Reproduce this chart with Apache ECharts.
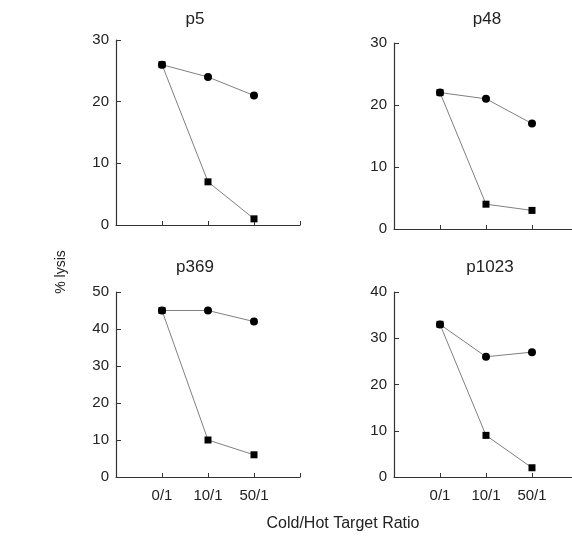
<!DOCTYPE html>
<html>
<head>
<meta charset="utf-8">
<script src="https://cdn.jsdelivr.net/npm/echarts@6/dist/echarts.min.js"></script>
<style>
  html, body { margin: 0; padding: 0; background: #fff; }
  #chart { width: 572px; height: 537px; }
</style>
</head>
<body>
<div id="chart"></div>
<script>
// 数据
const ratios = ["0/1", "10/1", "50/1"];
const panelNames = ["p5", "p48", "p369", "p1023"];
const circleValues = [
  [26, 24, 21],
  [22, 21, 17],
  [45, 45, 42],
  [33, 26, 27]
];
const squareValues = [
  [26, 7, 1],
  [22, 4, 3],
  [45, 10, 6],
  [33, 9, 2]
];
const yMax = [30, 30, 50, 40];
const yStep = [10, 10, 10, 10];

// 布局（右侧面板被画布右边截断）
const grids = [
  { left: 116, top: 40, width: 184, height: 185 },
  { left: 394, top: 43, width: 178, height: 186 },
  { left: 116, top: 292, width: 184, height: 185 },
  { left: 394, top: 292, width: 178, height: 185 }
];
const xMax = [4, 3.87, 4, 3.87];
const titlePos = [
  [195, 19],
  [487, 19],
  [195, 267],
  [490, 267]
];

const font = "Liberation Sans, Arial, sans-serif";
const axisColor = "#333";
const textColor = "#222";

function toPoints(values) {
  return values.map((v, i) => [i + 1, v]);
}

let option = {
  backgroundColor: "#fff",
  animation: false,
  grid: grids,
  xAxis: grids.map((g, i) => ({
    type: "value",
    gridIndex: i,
    min: 0,
    max: xMax[i],
    interval: 1,
    axisLine: { lineStyle: { color: axisColor, width: 1.2 } },
    axisTick: {
      inside: true,
      length: 4,
      customValues: xMax[i] >= 4 ? [1, 2, 3, 4] : [1, 2, 3],
      lineStyle: { color: axisColor }
    },
    splitLine: { show: false },
    axisLabel: {
      show: i >= 2,
      margin: 11,
      fontFamily: font,
      fontSize: 15,
      color: textColor,
      customValues: [1, 2, 3],
      formatter: v => ratios[Math.round(v) - 1] || ""
    }
  })),
  yAxis: grids.map((g, i) => ({
    type: "value",
    gridIndex: i,
    min: 0,
    max: yMax[i],
    interval: yStep[i],
    axisLine: { show: true, lineStyle: { color: axisColor, width: 1.2 } },
    axisTick: { show: true, inside: true, length: 5, lineStyle: { color: axisColor } },
    splitLine: { show: false },
    axisLabel: { margin: 7, fontFamily: font, fontSize: 15, color: textColor }
  })),
  series: [],
  graphic: []
};

// 标题
panelNames.forEach((n, i) => {
  option.graphic.push({
    type: "text",
    x: titlePos[i][0],
    y: titlePos[i][1],
    style: {
      text: n,
      font: "17px " + font,
      fill: textColor,
      textAlign: "center",
      textVerticalAlign: "middle"
    }
  });
});

// 轴名称
option.graphic.push({
  type: "text",
  x: 61,
  y: 272,
  rotation: Math.PI / 2,
  style: {
    text: "% lysis",
    font: "14px " + font,
    fill: textColor,
    textAlign: "center",
    textVerticalAlign: "middle"
  }
});
option.graphic.push({
  type: "text",
  x: 343,
  y: 524,
  style: {
    text: "Cold/Hot Target Ratio",
    font: "16px " + font,
    fill: textColor,
    textAlign: "center",
    textVerticalAlign: "middle"
  }
});

for (let i = 0; i < panelNames.length; i++) {
  option.series.push({
    name: panelNames[i] + " circle",
    type: "line",
    xAxisIndex: i,
    yAxisIndex: i,
    data: toPoints(circleValues[i]),
    symbol: "circle",
    symbolSize: 8,
    itemStyle: { color: "#000" },
    lineStyle: { color: "#808080", width: 1 }
  });
  option.series.push({
    name: panelNames[i] + " square",
    type: "line",
    xAxisIndex: i,
    yAxisIndex: i,
    data: toPoints(squareValues[i]),
    symbol: "rect",
    symbolSize: 7,
    itemStyle: { color: "#000" },
    lineStyle: { color: "#808080", width: 1 }
  });
}

let chart = echarts.init(document.getElementById("chart"));
chart.setOption(option);
</script>
</body>
</html>
